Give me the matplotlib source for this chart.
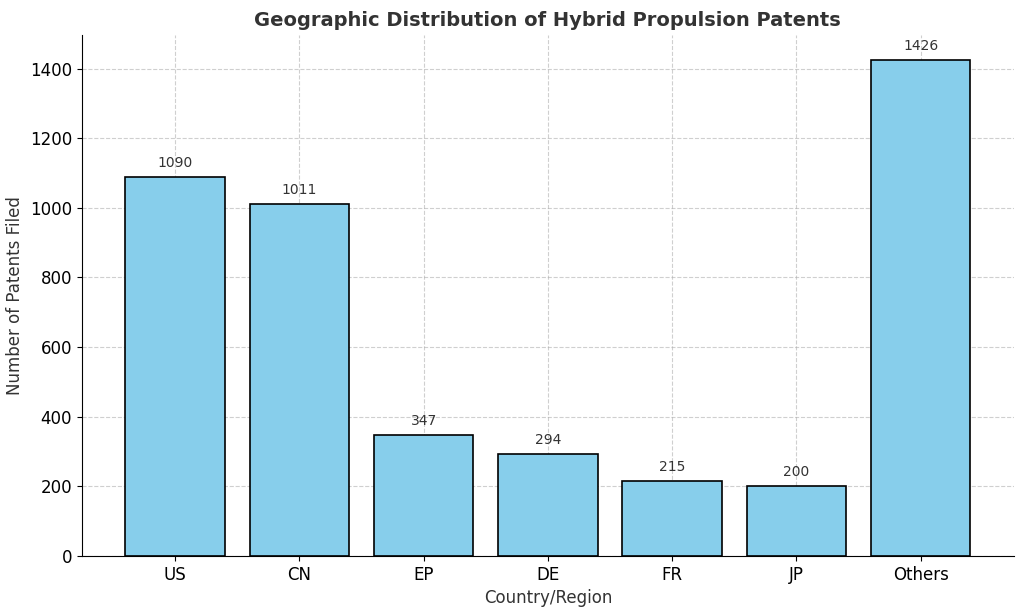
import matplotlib
matplotlib.use('Agg')
import matplotlib.pyplot as plt

regions = ["US", "CN", "EP", "DE", "FR", "JP", "Others"]
patents = [1090, 1011, 347, 294, 215, 200, 1426]

fig, ax = plt.subplots(figsize=(10.24, 6.11), dpi=100)
fig.subplots_adjust(left=0.080, right=0.990, top=0.943, bottom=0.090)
bars = ax.bar(regions, patents, color='skyblue', edgecolor='black', linewidth=1.2)
for b, v in zip(bars, patents):
    ax.text(b.get_x() + b.get_width() / 2, v + 20, str(v), ha='center', va='bottom',
            fontsize=10, color='#333333')

ax.set_title("Geographic Distribution of Hybrid Propulsion Patents",
             fontsize=14, fontweight='bold', color='#333333')
ax.set_xlabel("Country/Region", fontsize=12, color='#333333')
ax.set_ylabel("Number of Patents Filed", fontsize=12, color='#333333')
ax.tick_params(labelsize=12)
ax.set_ylim(0, 1497)
ax.set_xlim(-0.75, 6.75)
ax.grid(True, linestyle='--', alpha=0.6)
ax.set_axisbelow(True)
ax.spines['top'].set_visible(False)
ax.spines['right'].set_visible(False)

fig.savefig("out.png", dpi=100)
